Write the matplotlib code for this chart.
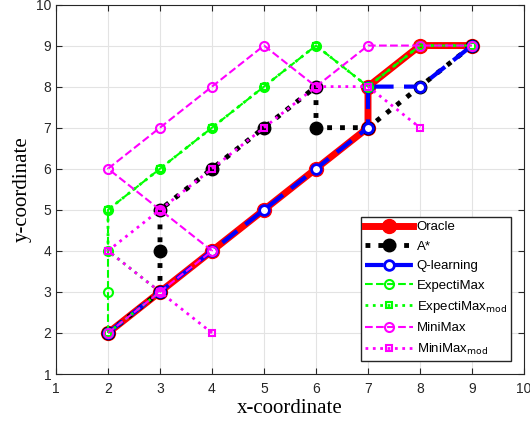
import matplotlib.pyplot as plt

oracle_x = [2, 3, 4, 5, 6, 7, 7, 8, 9]
oracle_y = [2, 3, 4, 5, 6, 7, 8, 9, 9]

astar_x = [2, 3, 3, 3, 4, 5, 6, 6, 7, 8, 9]
astar_y = [2, 3, 4, 5, 6, 7, 8, 7, 7, 8, 9]

qlearn_x = [2, 3, 4, 5, 6, 7, 7, 8, 9]
qlearn_y = [2, 3, 4, 5, 6, 7, 8, 8, 9]

expecti_x = [2, 2, 2, 2, 3, 4, 5, 6, 7, 8, 9]
expecti_y = [2, 3, 4, 5, 6, 7, 8, 9, 8, 9, 9]

expecti_mod_x = [2, 3, 2, 2, 3, 4, 5, 6, 7, 8, 9]
expecti_mod_y = [2, 3, 4, 5, 6, 7, 8, 9, 8, 9, 9]

minimax_x = [2, 3, 4, 3, 2, 3, 4, 5, 6, 7, 8, 9]
minimax_y = [2, 3, 4, 5, 6, 7, 8, 9, 8, 9, 9, 9]

minimax_mod_x = [4, 3, 2, 3, 4, 5, 6, 7, 8]
minimax_mod_y = [2, 3, 4, 5, 6, 7, 8, 8, 7]

plt.rcParams['font.family'] = ['Liberation Sans', 'DejaVu Sans']

fig = plt.figure(figsize=(5.3, 4.23), dpi=100)
ax = fig.add_axes([56 / 530, 1 - 374 / 423, 468 / 530, 369.5 / 423])

ax.plot(oracle_x, oracle_y, '-o', color='red', lw=5, ms=10, label='Oracle')
ax.plot(astar_x, astar_y, ':o', color='black', lw=3.5, ms=9, label='A*')
ax.plot(qlearn_x, qlearn_y, '--o', color='blue', lw=3, ms=7, mew=2,
        mfc='white', dashes=(4.5, 2.5), label='Q-learning')
ax.plot(expecti_x, expecti_y, '--o', color='#00ff00', lw=1.5, ms=6.5, mew=1.5,
        mfc='none', label='ExpectiMax')
ax.plot(expecti_mod_x, expecti_mod_y, ':s', color='#00ff00', lw=2, ms=5, mew=1.5,
        mfc='none', label=r'ExpectiMax$_{\mathrm{mod}}$')
ax.plot(minimax_x, minimax_y, '--o', color='magenta', lw=1.5, ms=6.5, mew=1.5,
        mfc='none', label='MiniMax')
ax.plot(minimax_mod_x, minimax_mod_y, ':s', color='magenta', lw=2, ms=5, mew=1.5,
        mfc='none', label=r'MiniMax$_{\mathrm{mod}}$')

ax.set_xlim(1, 10)
ax.set_ylim(1, 10)
ax.set_xticks(range(1, 11))
ax.set_yticks(range(1, 11))
for s in ax.spines.values():
    s.set_color('#262626')
ax.tick_params(labelsize=10, direction='in', length=4, top=True, right=True,
               colors='#262626')
ax.tick_params(axis='x', pad=6)
ax.grid(True, color='#e3e3e3', lw=0.8)
ax.set_axisbelow(True)
ax.set_xlabel('x-coordinate', family='Liberation Serif', fontsize=15, labelpad=2)
ax.set_ylabel('y-coordinate', family='Liberation Serif', fontsize=15, labelpad=3)

ax.legend(loc='lower right', fontsize=9.5, framealpha=1, edgecolor='#262626',
          fancybox=False, handlelength=3.6, borderaxespad=1.0, labelspacing=0.55,
          handletextpad=0.3, borderpad=0.3)

fig.savefig('out.png', dpi=100)
